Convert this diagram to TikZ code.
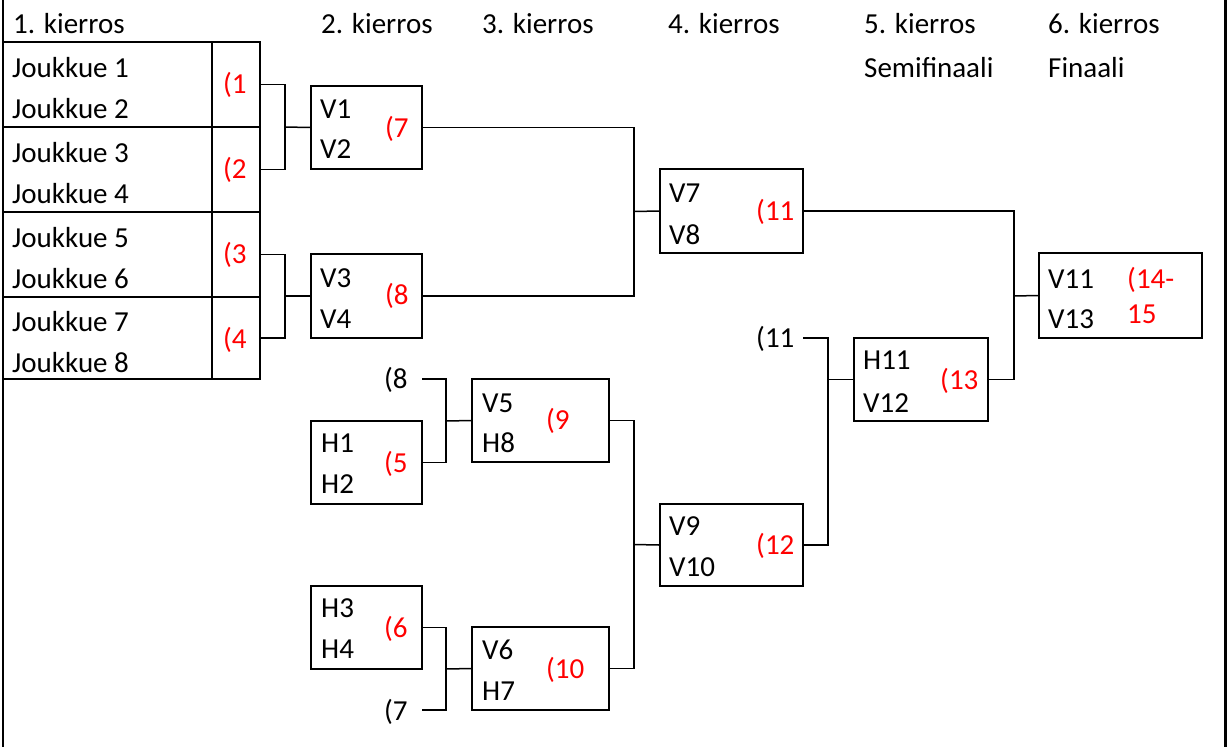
\documentclass[tikz,border=0pt]{standalone}
\usepackage{fontspec}
\setmainfont{Carlito}
\begin{document}
\begin{tikzpicture}[x=1pt,y=-1pt,
  box/.style 2 args={draw,line width=1.5pt,inner sep=0pt,minimum width=#1,minimum height=#2},
  line/.style={line width=1.5pt},
  txt/.style={font=\fontsize{29}{35}\selectfont,anchor=base west,inner sep=0pt},
  num/.style={txt,text=red}]
\useasboundingbox (0,0) rectangle (1230,747);
\draw[line width=2.5pt] (3,0) -- (3,747);
\draw[line width=2.5pt] (1225.5,0) -- (1225.5,747);
\node[txt] (k1) at (13,33) {1. kierros};
\node[txt] (k2) at (321,33) {2. kierros};
\node[txt] (k3) at (482,33) {3. kierros};
\node[txt] (k4) at (668,33) {4. kierros};
\node[txt] (k5) at (864,33) {5. kierros};
\node[txt] (k6) at (1048,33) {6. kierros};
\node[txt] (semi) at (864,77) {Semifinaali};
\node[txt] (fin) at (1048,77) {Finaali};
\foreach \i/\y/\h in {1/84.5/85,2/169.5/85,3/254.5/85,4/338/82} {
  \node[box={209pt}{\h pt}] (t\i) at (107.5,\y) {};
  \node[box={48pt}{\h pt}] (m\i) at (236,\y) {};
}
\foreach \i/\y in {1/77,2/118,3/162,4/203,5/247,6/288,7/331,8/372}
  \node[txt] (team\i) at (12,\y) {Joukkue \i};
\node[num] (n1) at (223,93) {(1};
\node[num] (n2) at (223,178) {(2};
\node[num] (n3) at (223,263) {(3};
\node[num] (n4) at (223,348) {(4};
\node[box={111pt}{83pt}] (v1) at (366.5,127.5) {};
\node[box={111pt}{84pt}] (v3) at (366.5,296) {};
\node[box={111pt}{83pt}] (h1) at (366.5,462.5) {};
\node[box={111pt}{83pt}] (h3) at (366.5,627.5) {};
\node[box={137pt}{83pt}] (v5) at (540.5,420.5) {};
\node[box={137pt}{83pt}] (v6) at (540.5,668.5) {};
\node[box={143pt}{84pt}] (v7) at (731.5,211) {};
\node[box={143pt}{82pt}] (v9) at (731.5,545) {};
\node[box={134pt}{83pt}] (h11) at (921,379.5) {};
\node[box={163pt}{85pt}] (v11) at (1120.5,295.5) {};
\node[txt] (a1) at (320,118) {V1};
\node[txt] (a2) at (320,158) {V2};
\node[num] (n7) at (385,137) {(7};
\node[txt] (a3) at (320,287) {V3};
\node[txt] (a4) at (320,328) {V4};
\node[num] (n8) at (385,304) {(8};
\node[txt] (b1) at (321,452) {H1};
\node[txt] (b2) at (321,493) {H2};
\node[num] (n5) at (384,472) {(5};
\node[txt] (b3) at (321,617) {H3};
\node[txt] (b4) at (321,658) {H4};
\node[num] (n6) at (384,637) {(6};
\node[txt] (p8) at (384,388) {(8};
\node[txt] (p7) at (384,720) {(7};
\node[txt] (a5) at (482,412) {V5};
\node[txt] (b8) at (482,452) {H8};
\node[num] (n9) at (546,429) {(9};
\node[txt] (a6) at (482,659) {V6};
\node[txt] (b7) at (482,700) {H7};
\node[num] (n10) at (546,678) {(10};
\node[txt] (a7) at (669,202) {V7};
\node[txt] (a8) at (669,244) {V8};
\node[num] (n11) at (756,220) {(11};
\node[txt] (a9) at (669,535) {V9};
\node[txt] (a10) at (669,576) {V10};
\node[num] (n12) at (756,554) {(12};
\node[txt] (p11) at (756,347) {(11};
\node[txt] (b11) at (863,369) {H11};
\node[txt] (a12) at (863,412) {V12};
\node[num] (n13) at (940,389) {(13};
\node[txt] (a11) at (1048,288) {V11};
\node[txt] (a13) at (1048,328) {V13};
\node[num] (n14) at (1127,288) {(14-};
\node[num] (n15) at (1127,323) {15};
\coordinate (j1) at (285,127);
\coordinate (j2) at (285,296);
\coordinate (j3) at (634,211.5);
\coordinate (j4) at (446,421);
\coordinate (j5) at (446,669);
\coordinate (j6) at (634,544.5);
\coordinate (j7) at (828,379.5);
\coordinate (j8) at (1014,296);
\coordinate (f8) at (422,379);
\coordinate (f7) at (422,710);
\coordinate (f11) at (803,338);
\draw[line] (m1.east) -| (j1) |- (m2.east);
\draw[line] (j1) -- (v1.west);
\draw[line] (m3.east) -| (j2) |- (m4.east);
\draw[line] (j2) -- (v3.west);
\draw[line] (v1.east) -| (j3) |- (v3.east);
\draw[line] (j3) -- (v7.west);
\draw[line] (f8) -| (j4) |- (h1.east);
\draw[line] (j4) -- (v5.west);
\draw[line] (h3.east) -| (j5) |- (f7);
\draw[line] (j5) -- (v6.west);
\draw[line] (v5.east) -| (j6) |- (v6.east);
\draw[line] (j6) -- (v9.west);
\draw[line] (f11) -| (j7) |- (v9.east);
\draw[line] (j7) -- (h11.west);
\draw[line] (v7.east) -| (j8) |- (h11.east);
\draw[line] (j8) -- (v11.west);
\end{tikzpicture}
\end{document}
